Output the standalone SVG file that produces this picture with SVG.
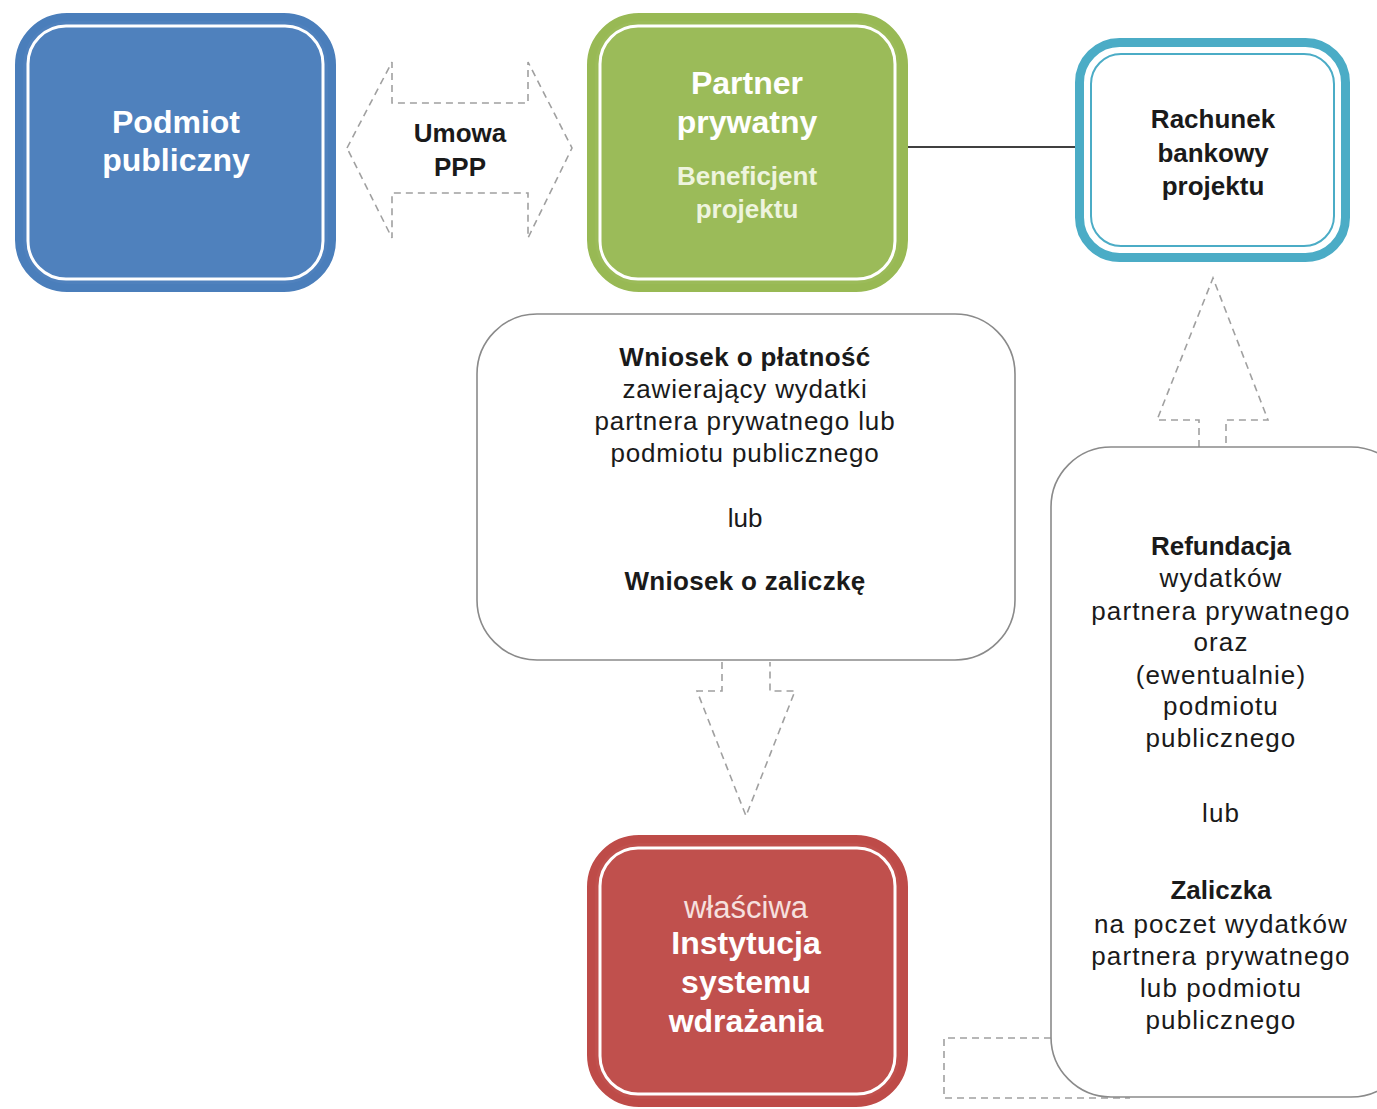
<svg xmlns="http://www.w3.org/2000/svg" width="1377" height="1109" viewBox="0 0 1377 1109">
<style>
text{font-family:"Liberation Sans",Arial,sans-serif;text-anchor:middle}
.b{font-weight:bold}
.dash{fill:none;stroke:#a0a0a0;stroke-width:1.6;stroke-dasharray:7 5}
.inner{fill:none;stroke:#fff;stroke-width:3}
.wbox{fill:#fff;stroke:#8a8a8a;stroke-width:1.6}
.t26{font-size:26px;fill:#1a1a1a}
</style>
<rect width="1377" height="1109" fill="#fff"/>
<g id="connectors">
<line x1="908" y1="147" x2="1075" y2="147" stroke="#404040" stroke-width="2"/>
<path class="dash" d="M347,148 L392,62 V103 H528 V62 L572,148 L528,238 V193 H392 V238 Z"/>
<path class="dash" d="M722,662 V691 H697 L746,816 L795,691 H770 V662"/>
<path class="dash" d="M1199,447 V420 H1157 L1213,278 L1268,420 H1226 V447"/>
<path class="dash" d="M1051,1038 H944 V1098 H1130"/>
</g>
<g id="podmiot">
<rect x="19" y="17" width="313" height="271" rx="48" fill="#4f81bd" stroke="#4a7ebb" stroke-width="8"/>
<rect class="inner" x="28" y="26" width="295" height="253" rx="38"/>
<text class="b" x="176" y="133" font-size="32" fill="#fff">Podmiot</text>
<text class="b" x="176" y="171" font-size="32" fill="#fff">publiczny</text>
</g>
<g id="partner">
<rect x="591" y="17" width="313" height="271" rx="48" fill="#9bbb59" stroke="#98b954" stroke-width="8"/>
<rect class="inner" x="600" y="26" width="295" height="253" rx="38"/>
<text class="b" x="747" y="94" font-size="32" fill="#fff">Partner</text>
<text class="b" x="747" y="133" font-size="32" fill="#fff">prywatny</text>
<text class="b" x="747" y="185" font-size="26" fill="#eef4de">Beneficjent</text>
<text class="b" x="747" y="218" font-size="26" fill="#eef4de">projektu</text>
</g>
<g id="umowa">
<text class="b t26" x="460" y="142">Umowa</text>
<text class="b t26" x="460" y="176">PPP</text>
</g>
<g id="rachunek">
<rect x="1079.5" y="42.5" width="266" height="215" rx="40" fill="#fff" stroke="#4bacc6" stroke-width="9"/>
<rect x="1091" y="54" width="243" height="192" rx="30" fill="none" stroke="#4bacc6" stroke-width="2"/>
<text class="b t26" x="1213" y="128">Rachunek</text>
<text class="b t26" x="1213" y="162">bankowy</text>
<text class="b t26" x="1213" y="195">projektu</text>
</g>
<g id="wniosek">
<rect class="wbox" x="477" y="314" width="538" height="346" rx="60"/>
<text class="b t26" x="745" y="366" letter-spacing="0.4">Wniosek o płatność</text>
<text class="t26" x="745" y="398" letter-spacing="0.8">zawierający  wydatki</text>
<text class="t26" x="745" y="430" letter-spacing="0.9">partnera prywatnego lub</text>
<text class="t26" x="745" y="462" letter-spacing="0.8">podmiotu publicznego</text>
<text class="t26" x="745" y="527">lub</text>
<text class="b t26" x="745" y="590" letter-spacing="0.3">Wniosek o zaliczkę</text>
</g>
<g id="instytucja">
<rect x="591" y="839" width="313" height="264" rx="48" fill="#c0504d" stroke="#be4b48" stroke-width="8"/>
<rect class="inner" x="600" y="848" width="295" height="246" rx="38"/>
<text x="746" y="918" font-size="31" fill="#f6e0df">właściwa</text>
<text class="b" x="746" y="954" font-size="32" fill="#fff">Instytucja</text>
<text class="b" x="746" y="993" font-size="32" fill="#fff">systemu</text>
<text class="b" x="746" y="1032" font-size="32" fill="#fff">wdrażania</text>
</g>
<g id="refundacja">
<rect class="wbox" x="1051" y="447" width="360" height="650" rx="60"/>
<g class="t26" letter-spacing="1.1">
<text class="b" x="1221" y="555" letter-spacing="0">Refundacja</text>
<text x="1221" y="587">wydatków</text>
<text x="1221" y="620">partnera prywatnego</text>
<text x="1221" y="651">oraz</text>
<text x="1221" y="684">(ewentualnie)</text>
<text x="1221" y="715">podmiotu</text>
<text x="1221" y="747">publicznego</text>
<text x="1221" y="822">lub</text>
<text class="b" x="1221" y="899" letter-spacing="0">Zaliczka</text>
<text x="1221" y="933">na poczet wydatków</text>
<text x="1221" y="965">partnera prywatnego</text>
<text x="1221" y="997">lub podmiotu</text>
<text x="1221" y="1029">publicznego</text>
</g>
</g>
</svg>
